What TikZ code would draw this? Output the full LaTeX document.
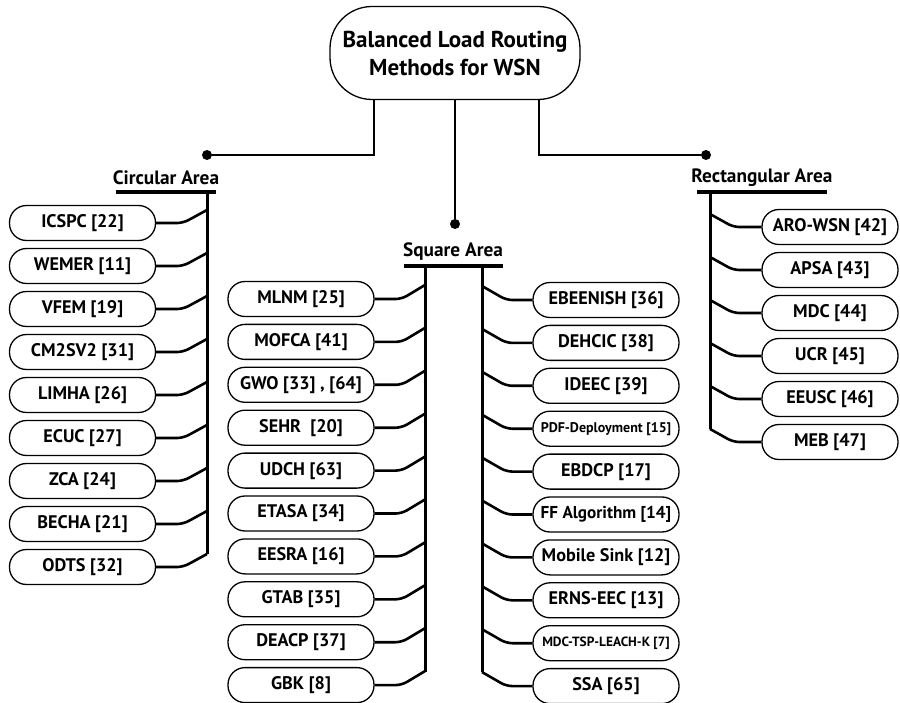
\documentclass[tikz,border=0pt]{standalone}
\usepackage{fontspec}
\setmainfont{PT Sans}
\usetikzlibrary{calc}
\begin{document}
\begin{tikzpicture}[x=1pt,y=-1pt,
  pill/.style={draw, line width=1.3pt, rounded corners=17pt, minimum width=146pt,
    minimum height=35pt, inner sep=0pt, font=\fontsize{18.2}{20}\selectfont\bfseries},
  head/.style={inner sep=0pt, font=\fontsize{19.3}{21}\selectfont\bfseries},
  trunk/.style={line width=3pt},
  bar/.style={line width=3.5pt},
  link/.style={line width=2.6pt, rounded corners=6pt},
  stem/.style={line width=1.4pt},
  dot/.style={circle, fill, inner sep=0pt, minimum size=10pt}]
\useasboundingbox (0,0) rectangle (900,703);

% root
\node[draw, line width=1.3pt, rounded corners=42pt, minimum width=250pt, minimum height=93pt,
  align=center, font=\fontsize{23}{28}\selectfont\bfseries] (root) at (455,53)
  {Balanced Load Routing\\Methods for WSN};

% branch points
\node[dot] (dotC) at (207,155) {};
\node[dot] (dotS) at (455,224) {};
\node[dot] (dotR) at (706,155) {};
\draw[stem] (root.south) ++(-81,0) |- (dotC);
\draw[stem] (root.south) -- (dotS);
\draw[stem] (root.south) ++(84,0) |- (dotR);

% group headings
\node[head] (hC) at (166,178) {Circular Area};
\node[head] (hS) at (453,252) {Square Area};
\node[head] (hR) at (762,178) {Rectangular Area};
\draw[bar] (116,192) -- (216,192);
\draw[bar] (404,266) -- (503,266);
\draw[bar] (697,192) -- (827,192);

% trunks
\coordinate (tC) at (207,192);
\coordinate (tL) at (425,266);
\coordinate (tRt) at (482,266);
\coordinate (tQ) at (710,192);
\draw[trunk] (tC) -- (207,554);
\draw[trunk] (tL) -- (425,672);
\draw[trunk] (tRt) -- (482,672);
\draw[trunk] (tQ) -- (710,429);

% circular area
\foreach \t [count=\i from 0] in {ICSPC [22],WEMER [11],VFEM [19],CM2SV2 [31],LIMHA [26],ECUC [27],ZCA [24],BECHA [21],ODTS [32]}{
  \node[pill] (c\i) at (82.5,223+43*\i) {\t};
  \draw[link] (c\i.east) -- ++(27,0) -- ($(c\i.east -| tC)+(0,-13)$);
}

% square area, left column
\foreach \t [count=\i from 0] in {MLNM [25],MOFCA [41],{GWO [33] , [64]},SEHR\ \ [20],UDCH [63],ETASA [34],EESRA [16],GTAB [35],DEACP [37],GBK [8]}{
  \node[pill] (l\i) at (301,299+42.9*\i) {\t};
  \draw[link] (l\i.east) -- ++(27,0) -- ($(l\i.east -| tL)+(0,-14)$);
}

% square area, right column
\foreach \t [count=\i from 0] in {EBEENISH [36],DEHCIC [38],IDEEC [39],{\fontsize{14}{16}\selectfont PDF-Deployment [15]},EBDCP [17],{\fontsize{17.2}{19}\selectfont FF Algorithm [14]},Mobile Sink [12],ERNS-EEC [13],{\fontsize{13.4}{15}\selectfont MDC-TSP-LEACH-K [7]},SSA [65]}{
  \node[pill] (r\i) at (606,300+42.9*\i) {\t};
  \draw[link] (r\i.west) -- ++(-26,0) -- ($(r\i.west -| tRt)+(0,-14)$);
}

% rectangular area
\foreach \t [count=\i from 0] in {ARO-WSN [42],APSA [43],MDC [44],UCR [45],EEUSC [46],MEB [47]}{
  \node[pill, minimum width=136pt] (q\i) at (830,227+43*\i) {\t};
  \draw[link] (q\i.west) -- ++(-28,0) -- ($(q\i.west -| tQ)+(0,-13)$);
}
\end{tikzpicture}
\end{document}
